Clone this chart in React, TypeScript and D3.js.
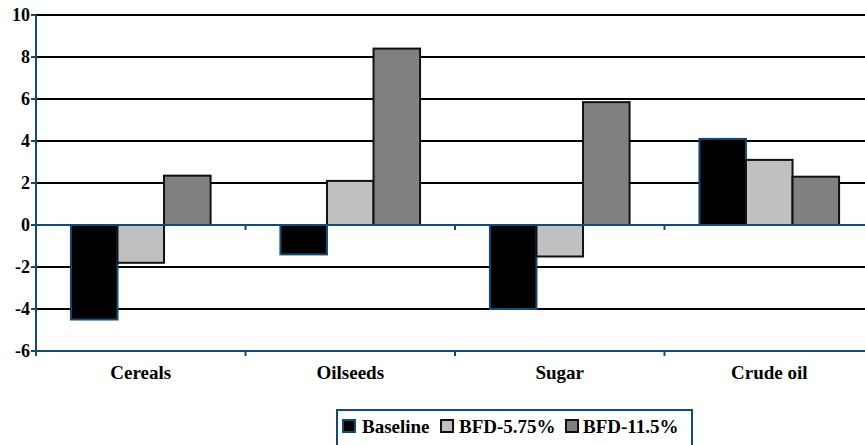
import React from "react";
import * as d3 from "d3";

const categories = ["Cereals", "Oilseeds", "Sugar", "Crude oil"];
const seriesNames = ["Baseline", "BFD-5.75%", "BFD-11.5%"];
const baseline = [-4.5, -1.4, -4.0, 4.1];
const bfd575 = [-1.8, 2.1, -1.5, 3.1];
const bfd115 = [2.35, 8.4, 5.85, 2.3];
const yTicks = [10, 8, 6, 4, 2, 0, -2, -4, -6];

const seriesValues = [baseline, bfd575, bfd115];
const fills = ["#000000", "#c0c0c0", "#808080"];
const strokes = ["#144b73", "#111111", "#111111"];
const AXIS = "#144b73";
const FONT = "Liberation Serif";

export default function App() {
  const W = 865, H = 445;
  const left = 36, right = 874, top = 15, bottom = 351;
  const y = d3.scaleLinear().domain([-6, 10]).range([bottom, top]);
  const x = d3.scaleBand<string>().domain(categories).range([left, right]).paddingInner(0).paddingOuter(0);
  const xs = d3.scaleBand<string>().domain(seriesNames).range([0, x.bandwidth()]).paddingInner(0).paddingOuter(0.75);

  const legendX = [343, 441, 566];
  const legendTextX = [362, 459, 583];

  return (
    <svg width={W} height={H} style={{ position: "absolute", left: 0, top: 0, background: "#fff" }}>
      {yTicks.filter(t => t !== 0 && t !== -6).map(t => (
        <line key={"g" + t} x1={left} x2={right} y1={y(t)} y2={y(t)} stroke="#000" strokeWidth={2} />
      ))}
      {categories.map((c, ci) =>
        seriesNames.map((s, si) => {
          const v = seriesValues[si][ci];
          const x0 = (x(c) as number) + (xs(s) as number);
          const y0 = y(Math.max(0, v));
          const h = Math.abs(y(v) - y(0));
          return (
            <rect key={c + s} x={x0} y={y0} width={xs.bandwidth()} height={h}
              fill={fills[si]} stroke={strokes[si]} strokeWidth={2} />
          );
        })
      )}
      <line x1={left} x2={left} y1={top} y2={bottom + 5} stroke={AXIS} strokeWidth={2} />
      {yTicks.map(t => (
        <g key={"t" + t}>
          <line x1={left - 5} x2={left} y1={y(t)} y2={y(t)} stroke={AXIS} strokeWidth={2} />
          <text x={left - 6} y={y(t)} dy="0.35em" textAnchor="end" fontFamily={FONT} fontWeight="bold" fontSize={18} fill="#000">{t}</text>
        </g>
      ))}
      <line x1={left} x2={right} y1={y(0)} y2={y(0)} stroke={AXIS} strokeWidth={2} />
      <line x1={left} x2={right} y1={bottom} y2={bottom} stroke={AXIS} strokeWidth={2} />
      {categories.map(c => (
        <g key={"ct" + c}>
          <line x1={(x(c) as number) + x.bandwidth()} x2={(x(c) as number) + x.bandwidth()} y1={y(0)} y2={y(0) + 5} stroke={AXIS} strokeWidth={2} />
          <line x1={(x(c) as number) + x.bandwidth()} x2={(x(c) as number) + x.bandwidth()} y1={bottom} y2={bottom + 5} stroke={AXIS} strokeWidth={2} />
          <text x={(x(c) as number) + x.bandwidth() / 2} y={379} textAnchor="middle" fontFamily={FONT} fontWeight="bold" fontSize={19} fill="#000">{c}</text>
        </g>
      ))}
      <rect x={337} y={410} width={355} height={40} fill="#fff" stroke={AXIS} strokeWidth={2} />
      {seriesNames.map((s, i) => (
        <g key={"l" + s}>
          <rect x={legendX[i]} y={420} width={12} height={12} fill={fills[i]} stroke={strokes[i]} strokeWidth={2} />
          <text x={legendTextX[i]} y={433} fontFamily={FONT} fontWeight="bold" fontSize={19} fill="#000">{s}</text>
        </g>
      ))}
    </svg>
  );
}
